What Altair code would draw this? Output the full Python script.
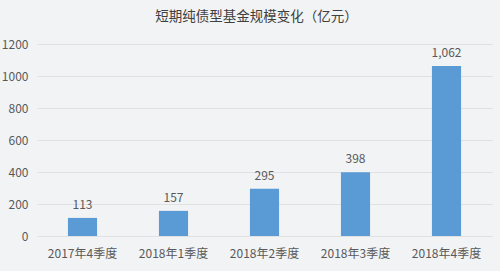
import altair as alt
import pandas as pd

categories = ["2017年4季度", "2018年1季度", "2018年2季度", "2018年3季度", "2018年4季度"]
values = [113, 157, 295, 398, 1062]
labels = ["113", "157", "295", "398", "1,062"]
yticks = [0, 200, 400, 600, 800, 1000, 1200]

df = pd.DataFrame({"cat": categories, "val": values, "label": labels})

font = "Noto Sans CJK SC"

x = alt.X("cat:N", sort=categories, title=None,
          scale=alt.Scale(paddingInner=0.68, paddingOuter=0.34),
          axis=alt.Axis(labelAngle=0, labelFontSize=12, labelColor="#595959",
                        labelFont=font, domain=False, ticks=False, labelPadding=12,
                        labelOverlap=False))
y = alt.Y("val:Q", title=None,
          scale=alt.Scale(domain=[0, 1200], nice=False),
          axis=alt.Axis(values=yticks, tickCount=7, labelFontSize=12,
                        format="d", labelOverlap=False,
                        labelColor="#595959", labelFont=font, domain=False, ticks=False,
                        labelPadding=9, gridColor="#dfe1e3", gridWidth=1))

bars = alt.Chart(df).mark_bar(color="#5b9bd5").encode(x=x, y=y)
text = alt.Chart(df).mark_text(dy=-13, fontSize=12, color="#595959", font=font).encode(
    x=x, y=y, text="label:N")

chart = alt.layer(bars, text).properties(
    width=455, height=192,
    title=alt.Title("短期纯债型基金规模变化（亿元）", fontSize=13.5, color="#404040",
                    font=font, fontWeight="normal", anchor="middle", offset=15, dx=-8),
    autosize=alt.AutoSizeParams(type="none"),
    padding={"left": 37, "top": 44, "right": 8, "bottom": 35},
    background="#f1f3f5",
).configure_view(stroke=None)

chart.save("out.html", embed_options={"renderer": "svg", "actions": False})
